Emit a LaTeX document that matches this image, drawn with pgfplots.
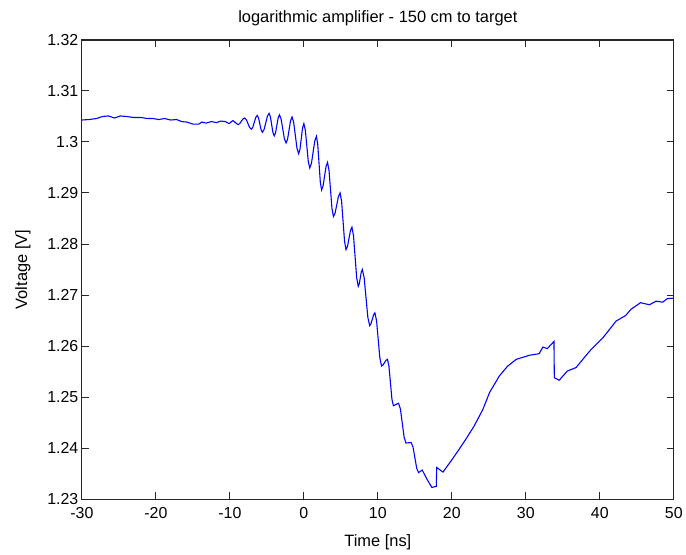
\documentclass[border=0pt]{standalone}
\usepackage{fontspec}
\setmainfont{Liberation Sans}
\usepackage{pgfplots}
\pgfplotsset{compat=1.18}
\pgfplotstableread{
x y
-30 1.3043
-29 1.3044
-28 1.3046
-27.2 1.3050
-26.4 1.3051
-25.6 1.3047
-24.8 1.3051
-24 1.3050
-23 1.3048
-22 1.3048
-21.2 1.3046
-20.4 1.3046
-19.6 1.3044
-18.8 1.3046
-18 1.3043
-17.2 1.3044
-16.5 1.3040
-15.8 1.3039
-15 1.3035
-14.2 1.3035
-13.8 1.3039
-13.2 1.3037
-12.5 1.3040
-11.8 1.3038
-11.2 1.3041
-10.6 1.3040
-10.1 1.3036
-9.6 1.3042
-8.9 1.3034
-8.675 1.30359
-8.225 1.30451
-8.0 1.3047
-7.775 1.30438
-7.325 1.30282
-7.1 1.3025
-6.9 1.30289
-6.5 1.30481
-6.3 1.3052
-6.125 1.30472
-5.775 1.30238
-5.6 1.3019
-5.375 1.30244
-4.925 1.30506
-4.7 1.3056
-4.525 1.30496
-4.175 1.30184
-4.0 1.3012
-3.825 1.3018
-3.475 1.3047
-3.3 1.3053
-3.075 1.3045
-2.625 1.3006
-2.4 1.2998
-2.2 1.30054
-1.8 1.30416
-1.6 1.3049
-1.375 1.30385
-0.925 1.29875
-0.7 1.2977
-0.525 1.29856
-0.175 1.30274
0.0 1.3036
0.2 1.30233
0.6 1.29617
0.8 1.2949
1.025 1.29581
1.475 1.30019
1.7 1.3011
1.875 1.29957
2.225 1.29213
2.4 1.2906
2.6 1.29139
3.0 1.29521
3.2 1.2960
3.4 1.29445
3.8 1.28695
4.0 1.2854
4.225 1.28607
4.675 1.28933
4.9 1.2900
5.1 1.28838
5.5 1.28052
5.7 1.2789
5.9 1.27954
6.3 1.28266
6.5 1.2833
6.71 1.28161
7.14 1.27339
7.35 1.2717
7.49 1.27218
7.76 1.27452
7.9 1.2750
8.15 1.27339
8.65 1.26561
8.9 1.2640
9.075 1.26437
9.425 1.26614
9.6 1.2665
9.825 1.26498
10.275 1.25762
10.5 1.2561
10.7 1.25629
11.1 1.25721
11.3 1.2574
11.5 1.25607
11.9 1.24963
12.1 1.2483
12.8 1.2488
13.05 1.24766
13.55 1.24214
13.8 1.2410
14.5 1.2411
14.75 1.24024
15.25 1.23606
15.5 1.2352
16.0 1.2357
16.6 1.2340
17.3 1.2323
17.9 1.2325
17.95 1.2362
18.8 1.2353
19.9 1.2375
21.0 1.2398
22.0 1.2420
23.0 1.2443
24.2 1.2476
25.1 1.2509
26.4 1.2541
27.5 1.2560
28.7 1.2574
30.5 1.2582
31.8 1.2585
32.3 1.2598
32.9 1.2595
33.8 1.2609
33.85 1.2538
34.5 1.2533
35.6 1.2551
36.8 1.2558
37.7 1.2574
38.8 1.2593
40.4 1.2616
42.2 1.2649
43.5 1.2660
44.2 1.2672
45.5 1.2685
46.7 1.2681
47.6 1.2688
48.5 1.2686
49.1 1.2693
50 1.2694
}\datatable
\begin{document}
\begin{tikzpicture}
\begin{axis}[
  scale only axis,
  width=593bp, height=460bp,
  xmin=-30, xmax=50, ymin=1.23, ymax=1.32,
  xtick={-30,-20,...,50},
  ytick={1.23,1.24,...,1.321},
  tick align=inside,
  tick pos=both,
  major tick length=7bp,
  axis line style={line width=1.2bp, black!85},
  every tick/.style={line width=1bp, black!85},
  /pgf/number format/assume math mode=true,
  yticklabel style={/pgf/number format/fixed, /pgf/number format/precision=2, font=\fontsize{16}{18}\selectfont},
  xticklabel style={font=\fontsize{16}{18}\selectfont, yshift=-5bp},
  title={logarithmic amplifier - 150 cm to target},
  title style={font=\fontsize{16.5}{19}\selectfont, yshift=5bp},
  xlabel={Time [ns]},
  ylabel={Voltage [V]},
  label style={font=\fontsize{16.5}{19}\selectfont},
  xlabel style={yshift=-9bp},
  ylabel style={yshift=10bp},
  clip=false,
]
\addplot[color={rgb,255:red,0;green,0;blue,255}, line width=1.1bp] table[x=x,y=y] {\datatable};
\coordinate (sw) at (rel axis cs:0,0);
\coordinate (ne) at (rel axis cs:1,1);
\end{axis}
\path ([shift={(-82bp,-55bp)}]sw) rectangle ([shift={(11bp,40bp)}]ne);
\end{tikzpicture}
\end{document}
